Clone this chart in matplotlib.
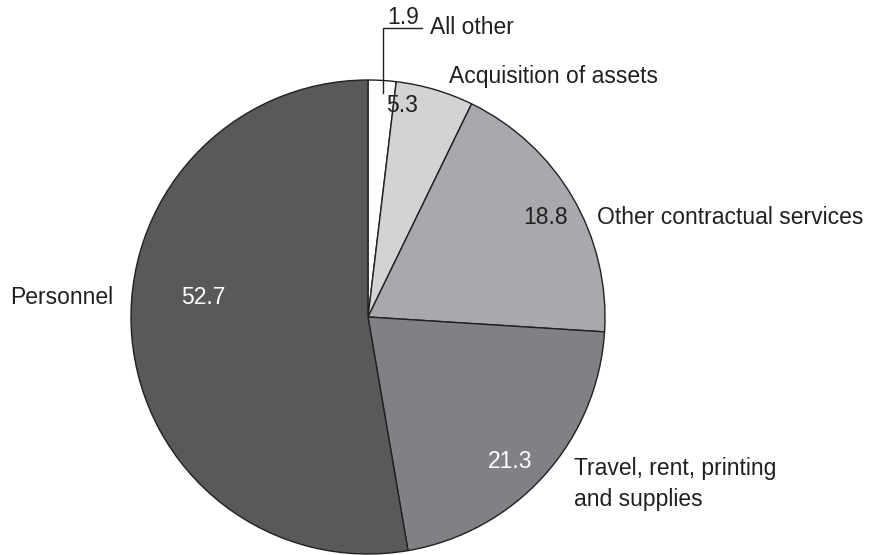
import matplotlib
matplotlib.use("Agg")
from matplotlib import pyplot as plt

labels = ["All other", "Acquisition of assets", "Other contractual services",
          "Travel, rent, printing\nand supplies", "Personnel"]
values = [1.9, 5.3, 18.8, 21.3, 52.7]
colors = ["#ffffff", "#d1d3d4", "#a7a9ac", "#808184", "#58595b"]
value_colors = ["#231f20", "#231f20", "#231f20", "#ffffff", "#ffffff"]

plt.rcParams["font.family"] = ["Liberation Sans", "DejaVu Sans"]

fig = plt.figure(figsize=(8.9, 5.55), dpi=100)
ax = fig.add_axes([0, 0, 1, 1])
H = 555

cx, cy, r = 368, H - 317, 237
ax.pie(values, colors=colors, startangle=90, counterclock=False,
       center=(cx, cy), radius=r,
       wedgeprops=dict(edgecolor="#231f20", linewidth=1.0))

fs = 16.5
# value labels (pixel positions from the reference)
val_pos = [(403, 17), (402, 106), (546, 218), (510, 462), (203, 298)]
for v, (x, y), c in zip(values, val_pos, value_colors):
    ax.text(x, H - y, f"{v}", ha="center", va="center", fontsize=fs, color=c)

# category labels
lab_pos = [(430, 28), (449, 77), (597, 218), (574, 484), (10, 298)]
for lab, (x, y) in zip(labels, lab_pos):
    ax.text(x, H - y, lab, ha="left", va="center", fontsize=fs,
            color="#231f20", linespacing=1.45)

# leader line for the small slice
ax.plot([383, 383, 422], [H - 93, H - 28, H - 28], color="#231f20", lw=1.0)

ax.set_xlim(0, 890)
ax.set_ylim(0, H)
ax.set_aspect("equal")
ax.axis("off")
fig.savefig("out.png", dpi=100)
